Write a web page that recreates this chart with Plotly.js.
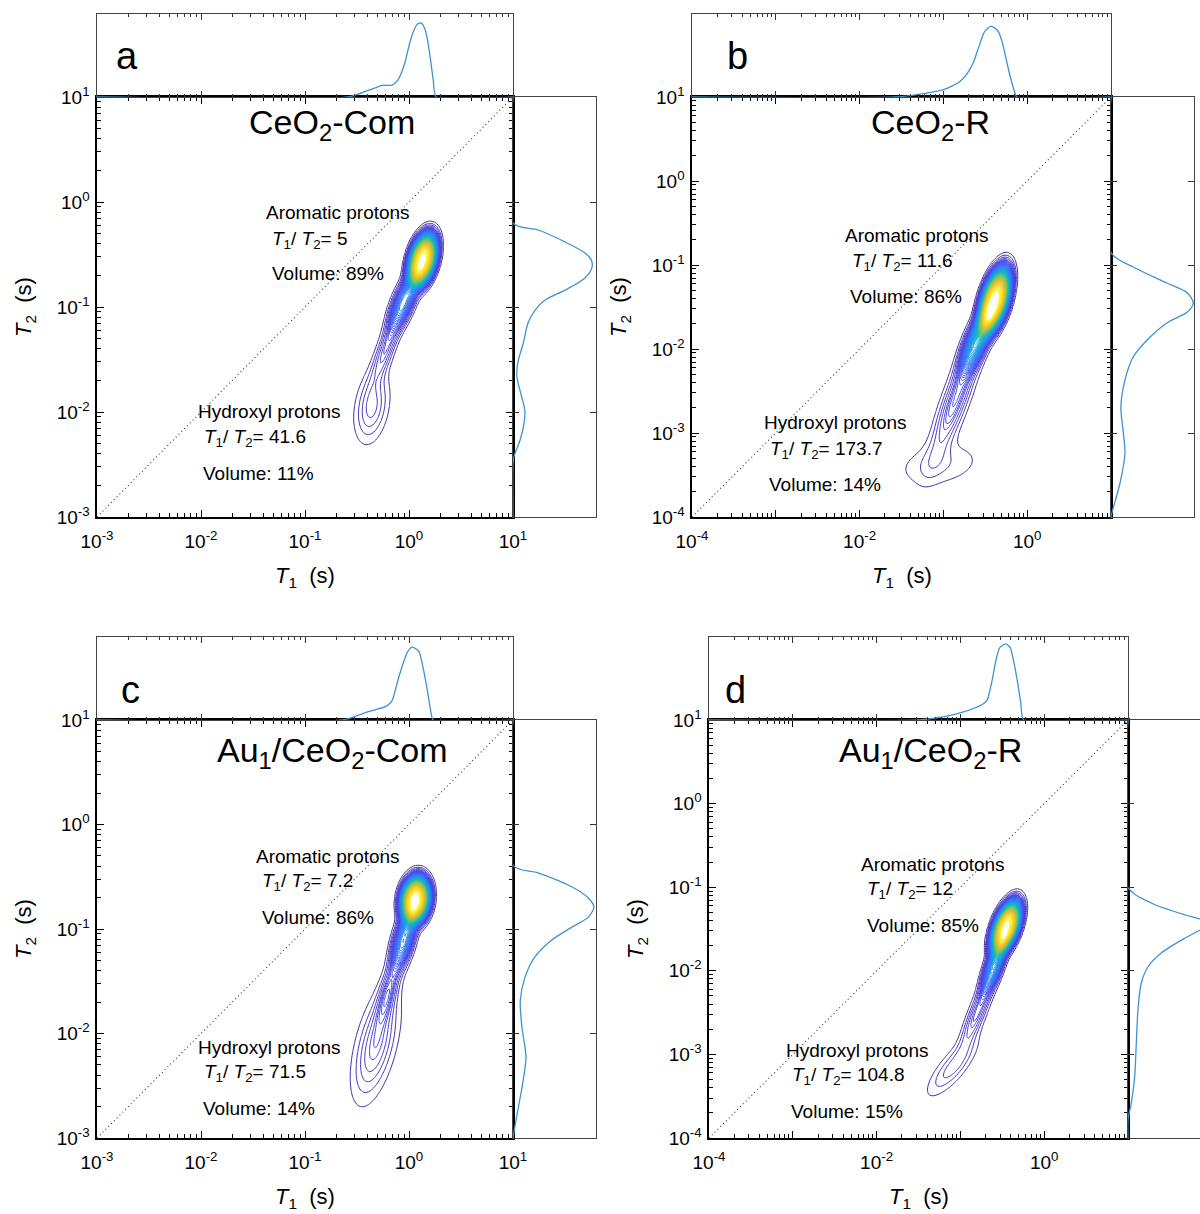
<!DOCTYPE html>
<html><head><meta charset="utf-8">
<script src="https://cdn.plot.ly/plotly-3.0.1.min.js"></script>
<style>html,body{margin:0;padding:0;overflow:hidden;background:#fff}#chart{width:1215px;height:1214px}</style>
</head><body><div id="chart"></div>
<script>
// ================= DATA =================
const panelLetters = ['a', 'b', 'c', 'd'];
const sampleNames = ['CeO<sub>2</sub>-Com', 'CeO<sub>2</sub>-R', 'Au<sub>1</sub>/CeO<sub>2</sub>-Com', 'Au<sub>1</sub>/CeO<sub>2</sub>-R'];
const aromaticRatio = ['5', '11.6', '7.2', '12'];
const aromaticVolume = ['89%', '86%', '86%', '85%'];
const hydroxylRatio = ['41.6', '173.7', '71.5', '104.8'];
const hydroxylVolume = ['11%', '14%', '14%', '15%'];

// axis limits, log10(seconds)
const t1Limits = [[-3, 1], [-4, 1], [-3, 1], [-4, 1]];
const t2Limits = [[-3, 1], [-4, 1], [-3, 1], [-4, 1]];
// decades that carry a T1 tick label
const t1Labelled = [[-3, -2, -1, 0, 1], [-4, -2, 0], [-3, -2, -1, 0, 1], [-4, -2, 0]];

// 2D T1-T2 map: peak components (T1 s, T2 s, tilt deg, spread along / across in decades, height, flatness)
const peakT1_a = [1.35, 0.89, 0.60, 0.44];
const peakT2_a = [0.28, 0.112, 0.040, 0.0112];
const peakTilt_a = [75, 68, 70, 80];
const peakAlong_a = [0.20, 0.20, 0.22, 0.21];
const peakAcross_a = [0.095, 0.065, 0.05, 0.095];
const peakHeight_a = [1.0, 0.30, 0.11, 0.09];
const peakShape_a = [1.6, 1.2, 1, 1];

const peakT1_b = [0.41, 0.25, 0.14, 0.089];
const peakT2_b = [0.038, 0.0126, 0.0025, 0.00042];
const peakTilt_b = [74, 68, 70, 10];
const peakAlong_b = [0.31, 0.27, 0.45, 0.34];
const peakAcross_b = [0.12, 0.085, 0.09, 0.17];
const peakHeight_b = [1.0, 0.40, 0.14, 0.04];
const peakShape_b = [1.6, 1.2, 1, 1];

const peakT1_c = [1.15, 0.89, 0.63, 0.48];
const peakT2_c = [0.19, 0.079, 0.025, 0.0078];
const peakTilt_c = [82, 75, 75, 76];
const peakAlong_c = [0.175, 0.20, 0.20, 0.33];
const peakAcross_c = [0.105, 0.065, 0.05, 0.11];
const peakHeight_c = [1.0, 0.32, 0.12, 0.11];
const peakShape_c = [1.6, 1.2, 1, 1];

const peakT1_d = [0.35, 0.25, 0.16, 0.08];
const peakT2_d = [0.033, 0.0112, 0.0032, 0.0007];
const peakTilt_d = [70, 70, 68, 50];
const peakAlong_d = [0.255, 0.22, 0.30, 0.27];
const peakAcross_d = [0.11, 0.065, 0.06, 0.09];
const peakHeight_d = [1.0, 0.35, 0.12, 0.07];
const peakShape_d = [1.6, 1.2, 1, 1];

// T1 projections (top)
const projT1_a = [0.001, 0.261, 0.398, 0.558, 0.690, 0.783, 0.853, 0.929, 1.012, 1.099, 1.197, 1.303, 1.419, 1.507, 1.611, 1.710, 1.832, 10];
const projT1Amp_a = [0, 0, 0.085, 0.157, 0.16, 0.23, 0.34, 0.50, 0.72, 0.88, 0.98, 1.0, 0.92, 0.77, 0.50, 0.23, 0, 0];
const projT1_b = [0.0001, 0.0263, 0.0608, 0.1028, 0.156, 0.193, 0.226, 0.265, 0.310, 0.371, 0.447, 0.508, 0.564, 0.628, 0.697, 0.755, 10];
const projT1Amp_b = [0, 0, 0.052, 0.108, 0.215, 0.334, 0.475, 0.71, 0.92, 1.0, 0.934, 0.756, 0.52, 0.286, 0.1, 0, 0];
const projT1_c = [0.001, 0.229, 0.398, 0.608, 0.690, 0.783, 0.889, 0.971, 1.081, 1.247, 1.361, 1.479, 1.611, 1.710, 10];
const projT1Amp_c = [0, 0, 0.11, 0.19, 0.27, 0.55, 0.80, 0.94, 1.0, 0.94, 0.73, 0.46, 0.14, 0, 0];
const projT1_d = [0.0001, 0.0308, 0.0644, 0.109, 0.184, 0.209, 0.240, 0.266, 0.295, 0.346, 0.393, 0.436, 0.483, 0.526, 0.571, 10];
const projT1Amp_d = [0, 0, 0.044, 0.106, 0.207, 0.264, 0.53, 0.79, 0.95, 1.0, 0.95, 0.75, 0.485, 0.22, 0, 0];

// T2 projections (right)
const projT2_a = [10, 0.631, 0.541, 0.416, 0.327, 0.281, 0.240, 0.189, 0.145, 0.117, 0.0935, 0.0705, 0.0454, 0.0293, 0.0215, 0.0139, 0.01045, 0.00785, 0.00541, 0.00372, 0.00316, 0.001];
const projT2Amp_a = [0, 0, 0.32, 0.66, 0.91, 0.99, 1.0, 0.91, 0.66, 0.41, 0.28, 0.19, 0.13, 0.06, 0.05, 0.11, 0.15, 0.14, 0.09, 0.01, 0, 0];
const projT2_b = [10, 0.141, 0.0946, 0.0611, 0.0465, 0.0353, 0.0275, 0.0204, 0.0128, 0.00804, 0.00428, 0.00204, 0.001, 0.000578, 0.000254, 0.000121, 0.0001];
const projT2Amp_b = [0, 0, 0.27, 0.68, 0.93, 1.0, 0.93, 0.68, 0.44, 0.27, 0.17, 0.12, 0.15, 0.17, 0.11, 0.02, 0];
const projT2_c = [10, 0.407, 0.344, 0.252, 0.198, 0.163, 0.130, 0.1045, 0.0785, 0.054, 0.0348, 0.0209, 0.01153, 0.00596, 0.00336, 0.00185, 0.00112, 0.001];
const projT2Amp_c = [0, 0, 0.31, 0.73, 0.93, 1.0, 0.93, 0.73, 0.48, 0.27, 0.15, 0.09, 0.11, 0.16, 0.12, 0.06, 0.01, 0];
const projT2_d = [10, 0.1, 0.0647, 0.0465, 0.0417, 0.0355, 0.0308, 0.0247, 0.0163, 0.0111, 0.00714, 0.0034, 0.00137, 0.000537, 0.000263, 0.000164, 0.0001];
const projT2Amp_d = [0, 0, 0.28, 0.69, 0.87, 1.0, 0.87, 0.69, 0.40, 0.24, 0.16, 0.12, 0.10, 0.08, 0.04, 0, 0];

// ================= LAYOUT GEOMETRY (pixels) =================
const W = 1215, H = 1214;
const geom = [
  {mx: [97, 513], my: [97, 517], ty: [14, 97], rx: [513, 596], topMax: 1.12, rightMax: 1.05},
  {mx: [692, 1111], my: [97, 517], ty: [14, 97], rx: [1111, 1194], topMax: 1.17, rightMax: 1.01},
  {mx: [97, 513], my: [720, 1138], ty: [637, 720], rx: [513, 596], topMax: 1.14, rightMax: 1.025},
  {mx: [709, 1128], my: [720, 1138], ty: [637, 720], rx: [1128, 1211], topMax: 1.09, rightMax: 1.0}
];
const textPos = [
  {title: [332, 124], letter: [127, 56], aro: [[264, 212], [270, 240], [270, 273]], hyd: [[196, 412], [202, 438], [201, 473]]},
  {title: [930, 124], letter: [737, 56], aro: [[843, 235], [850, 262], [848, 296]], hyd: [[762, 423], [768, 450], [767, 485]]},
  {title: [332, 752], letter: [130, 690], aro: [[254, 856], [260, 882], [260, 917]], hyd: [[196, 1047], [202, 1073], [201, 1108]]},
  {title: [930, 752], letter: [735, 690], aro: [[859, 864], [865, 890], [865, 926]], hyd: [[784, 1050], [790, 1076], [789, 1111]]}
];

const peaks = [
  [peakT1_a, peakT2_a, peakTilt_a, peakAlong_a, peakAcross_a, peakHeight_a, peakShape_a],
  [peakT1_b, peakT2_b, peakTilt_b, peakAlong_b, peakAcross_b, peakHeight_b, peakShape_b],
  [peakT1_c, peakT2_c, peakTilt_c, peakAlong_c, peakAcross_c, peakHeight_c, peakShape_c],
  [peakT1_d, peakT2_d, peakTilt_d, peakAlong_d, peakAcross_d, peakHeight_d, peakShape_d]
];
const projTop = [[projT1_a, projT1Amp_a], [projT1_b, projT1Amp_b], [projT1_c, projT1Amp_c], [projT1_d, projT1Amp_d]];
const projRight = [[projT2_a, projT2Amp_a], [projT2_b, projT2Amp_b], [projT2_c, projT2Amp_c], [projT2_d, projT2Amp_d]];

const FONT = 'Liberation Sans, Arial, Helvetica, sans-serif';
const PARULA = [
  [0.0, [62, 38, 168]], [0.1, [71, 64, 228]], [0.2, [63, 99, 250]], [0.3, [42, 135, 245]],
  [0.4, [24, 163, 224]], [0.5, [23, 185, 185]], [0.6, [75, 197, 135]], [0.7, [156, 198, 74]],
  [0.8, [226, 186, 50]], [0.9, [251, 207, 47]], [1.0, [249, 251, 21]]
];
const LINE_BLUE = '#3d93d4';
// contour levels: sparse low levels, dense upper levels
const LOW_LEVELS = {start: 0.02, end: 0.1, size: 0.02};
const HIGH_LEVELS = {start: 0.112, end: 0.995, size: 0.0125};

const fx = p => p / W;
const fy = p => 1 - p / H;

function parulaAt(t) {
  t = Math.max(0, Math.min(1, t));
  for (let k = 1; k < PARULA.length; k++) {
    if (t <= PARULA[k][0]) {
      const a = PARULA[k - 1], b = PARULA[k];
      const f = (t - a[0]) / (b[0] - a[0]);
      const c = a[1].map((v, j) => Math.round(v + (b[1][j] - v) * f));
      return 'rgb(' + c.join(',') + ')';
    }
  }
  return 'rgb(249,251,21)';
}
function subScale(lv) {
  const t0 = (lv.start - LOW_LEVELS.start) / (HIGH_LEVELS.end - LOW_LEVELS.start);
  const t1 = (lv.end - LOW_LEVELS.start) / (HIGH_LEVELS.end - LOW_LEVELS.start);
  const s = [];
  for (let k = 0; k <= 20; k++) s.push([k / 20, parulaAt(t0 + (t1 - t0) * k / 20)]);
  return s;
}

function density(pk, u, v) {
  let s = 0;
  for (let k = 0; k < pk[0].length; k++) {
    const du = u - Math.log10(pk[0][k]);
    const dv = v - Math.log10(pk[1][k]);
    const th = pk[2][k] * Math.PI / 180;
    const a = du * Math.cos(th) + dv * Math.sin(th);
    const b = -du * Math.sin(th) + dv * Math.cos(th);
    const q = a * a / (pk[3][k] * pk[3][k]) + b * b / (pk[4][k] * pk[4][k]);
    s += pk[5][k] * Math.exp(-0.5 * Math.pow(q, pk[6][k]));
  }
  return s;
}

function decadeVals(lim) { const v = []; for (let e = lim[0]; e <= lim[1]; e++) v.push(Math.pow(10, e)); return v; }
function decadeText(lim, labelled) {
  const t = [];
  for (let e = lim[0]; e <= lim[1]; e++) t.push(labelled.indexOf(e) >= 0 ? '10<sup>' + e + '</sup>' : ' ');
  return t;
}

const data = [];
const layout = {
  width: W, height: H, margin: {l: 0, r: 0, t: 0, b: 0},
  paper_bgcolor: '#fff', plot_bgcolor: 'rgba(0,0,0,0)', showlegend: false,
  font: {family: FONT, color: '#000'}, annotations: []
};

for (let i = 0; i < 4; i++) {
  const g = geom[i];
  const n0 = 3 * i + 1, n1 = n0 + 1, n2 = n0 + 2;
  const ax = n => (n === 1 ? 'xaxis' : 'xaxis' + n);
  const ay = n => (n === 1 ? 'yaxis' : 'yaxis' + n);
  const rx = n => (n === 1 ? 'x' : 'x' + n);
  const ry = n => (n === 1 ? 'y' : 'y' + n);
  const xl = t1Limits[i], yl = t2Limits[i];

  const minor = {ticks: 'inside', ticklen: 4, tickwidth: 1, tickcolor: '#000', dtick: 'D1', showgrid: false};
  const common = {showgrid: false, zeroline: false, fixedrange: true, showline: true, linecolor: '#000'};

  // main axes
  layout[ax(n0)] = Object.assign({}, common, {
    domain: [fx(g.mx[0]), fx(g.mx[1])], anchor: ry(n0), type: 'log', range: xl.slice(),
    tickmode: 'array', tickvals: decadeVals(xl), ticktext: decadeText(xl, t1Labelled[i]),
    ticks: 'inside', ticklen: 7, tickwidth: 1, tickcolor: '#000', minor: minor,
    linewidth: 1.6, mirror: 'allticks', tickfont: {size: 19, family: FONT, color: '#000'}, ticklabelstandoff: 7
  });
  layout[ay(n0)] = Object.assign({}, common, {
    domain: [fy(g.my[1]), fy(g.my[0])], anchor: rx(n0), type: 'log', range: yl.slice(),
    tickmode: 'array', tickvals: decadeVals(yl), ticktext: decadeText(yl, [-4, -3, -2, -1, 0, 1]),
    ticks: 'inside', ticklen: 7, tickwidth: 1, tickcolor: '#000', minor: minor,
    linewidth: 1.6, mirror: 'allticks', tickfont: {size: 19, family: FONT, color: '#000'}, ticklabelstandoff: 2
  });
  // top projection axes
  layout[ax(n1)] = Object.assign({}, common, {
    domain: [fx(g.mx[0]), fx(g.mx[1])], anchor: ry(n1), type: 'log', range: xl.slice(),
    tickmode: 'array', tickvals: decadeVals(xl), showticklabels: false,
    ticks: 'inside', ticklen: 6, tickwidth: 1, tickcolor: '#333', minor: Object.assign({}, minor, {tickcolor: '#333', ticklen: 3}),
    linewidth: 1.2, linecolor: '#444', mirror: 'allticks'
  });
  layout[ay(n1)] = Object.assign({}, common, {
    domain: [fy(g.ty[1]), fy(g.ty[0])], anchor: rx(n1), range: [0, g.topMax],
    showticklabels: false, ticks: '', linewidth: 1.2, linecolor: '#444', mirror: true
  });
  // right projection axes
  layout[ax(n2)] = Object.assign({}, common, {
    domain: [fx(g.rx[0]), Math.min(1, fx(g.rx[1]))], anchor: ry(n2), range: [0, g.rightMax],
    showticklabels: false, ticks: '', linewidth: 1.2, linecolor: '#444', mirror: true
  });
  layout[ay(n2)] = Object.assign({}, common, {
    domain: [fy(g.my[1]), fy(g.my[0])], anchor: rx(n2), type: 'log', range: yl.slice(),
    tickmode: 'array', tickvals: decadeVals(yl), showticklabels: false,
    ticks: 'inside', ticklen: 6, tickwidth: 1, tickcolor: '#333',
    linewidth: 1.2, linecolor: '#444', mirror: 'allticks'
  });

  // diagonal T1 = T2
  const diagEnds = [Math.pow(10, Math.max(xl[0], yl[0])), Math.pow(10, Math.min(xl[1], yl[1]))];
  data.push({type: 'scatter', mode: 'lines', x: diagEnds, y: diagEnds, xaxis: rx(n0), yaxis: ry(n0),
    line: {color: '#333', width: 1.1, dash: '1px,3px'}, hoverinfo: 'skip'});

  // contour map
  const N = 240;
  const us = [], vs = [];
  for (let k = 0; k < N; k++) { us.push(xl[0] + (xl[1] - xl[0]) * k / (N - 1)); vs.push(yl[0] + (yl[1] - yl[0]) * k / (N - 1)); }
  const z = vs.map(v => us.map(u => density(peaks[i], u, v)));
  const gx = us.map(u => Math.pow(10, u)), gy = vs.map(v => Math.pow(10, v));
  [LOW_LEVELS, HIGH_LEVELS].forEach(lv => {
    data.push({type: 'contour', x: gx, y: gy, z: z,
      xaxis: rx(n0), yaxis: ry(n0), showscale: false, autocontour: false,
      contours: {start: lv.start, end: lv.end, size: lv.size, coloring: 'lines'},
      line: {width: 1, smoothing: 1}, colorscale: subScale(lv), hoverinfo: 'skip'});
  });

  // projections
  data.push({type: 'scatter', mode: 'lines', x: projTop[i][0], y: projTop[i][1], xaxis: rx(n1), yaxis: ry(n1),
    line: {color: LINE_BLUE, width: 1.3, shape: 'spline', smoothing: 0.6}, hoverinfo: 'skip'});
  data.push({type: 'scatter', mode: 'lines', x: projRight[i][1], y: projRight[i][0], xaxis: rx(n2), yaxis: ry(n2),
    line: {color: LINE_BLUE, width: 1.3, shape: 'spline', smoothing: 0.8}, hoverinfo: 'skip'});

  // texts
  const tp = textPos[i];
  const ann = (txt, p, size, xa, extra) => layout.annotations.push(Object.assign({
    text: txt, x: fx(p[0]), y: fy(p[1]), xref: 'paper', yref: 'paper', xanchor: xa, yanchor: 'middle',
    showarrow: false, font: {family: FONT, size: size, color: '#000'}}, extra || {}));
  ann(panelLetters[i], tp.letter, 38, 'center');
  ann(sampleNames[i], tp.title, 34, 'center');
  ann('Aromatic protons', tp.aro[0], 19, 'left');
  ann('<i>T</i><sub>1</sub>/ <i>T</i><sub>2</sub>= ' + aromaticRatio[i], tp.aro[1], 19, 'left');
  ann('Volume: ' + aromaticVolume[i], tp.aro[2], 19, 'left');
  ann('Hydroxyl protons', tp.hyd[0], 19, 'left');
  ann('<i>T</i><sub>1</sub>/ <i>T</i><sub>2</sub>= ' + hydroxylRatio[i], tp.hyd[1], 19, 'left');
  ann('Volume: ' + hydroxylVolume[i], tp.hyd[2], 19, 'left');
  // axis titles
  const cx = (g.mx[0] + g.mx[1]) / 2, cy = (g.my[0] + g.my[1]) / 2;
  ann('<i>T</i><sub>1</sub>&nbsp;&nbsp;(s)', [cx, g.my[1] + 60], 22, 'center');
  ann('<i>T</i><sub>2</sub>&nbsp;&nbsp;(s)', [g.mx[0] - 72, cy], 22, 'center', {textangle: -90});
}

Plotly.newPlot('chart', data, layout, {staticPlot: true});
</script></body></html>
